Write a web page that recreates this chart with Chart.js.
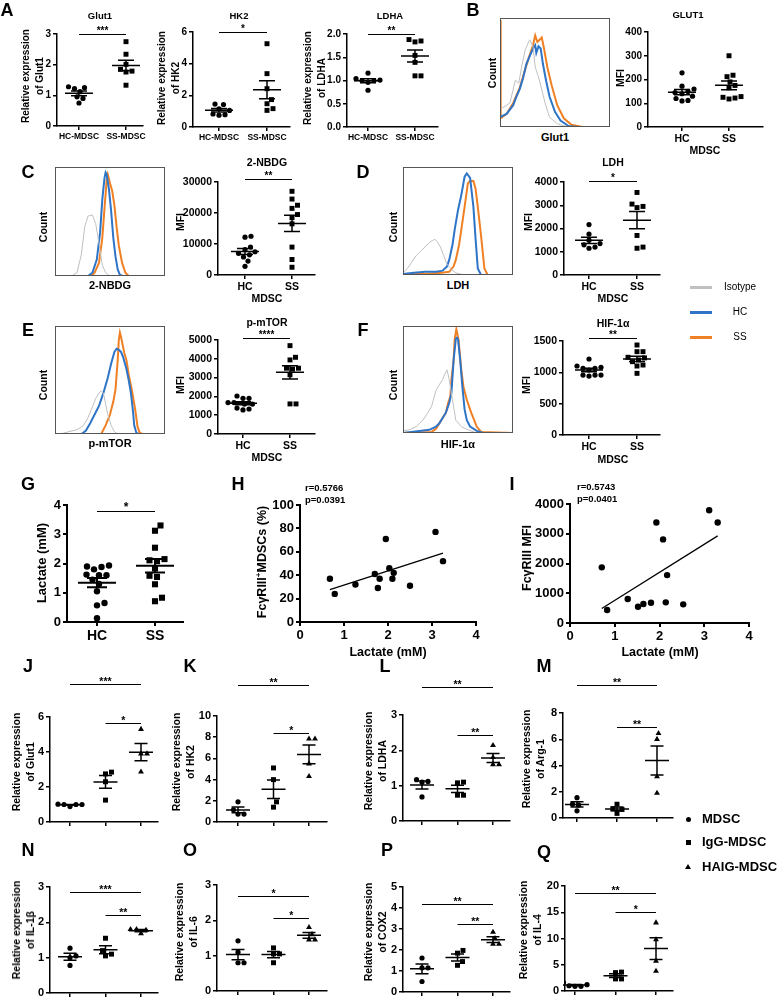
<!DOCTYPE html>
<html><head><meta charset="utf-8">
<script src="https://cdn.jsdelivr.net/npm/chart.js@4/dist/chart.umd.min.js"></script>
<style>
html,body{margin:0;padding:0;background:#fff;}
#root{position:relative;width:778px;height:997px;overflow:hidden;font-family:"Liberation Sans",Arial,sans-serif;font-weight:bold;color:#000;background:#fff;}
canvas{position:absolute;}
.t{position:absolute;white-space:nowrap;line-height:1.15;text-align:center;}
</style></head><body><div id="root"></div>
<script>
// ---------------- DATA ----------------
// Panel A: qPCR, HC-MDSC vs SS-MDSC
const A_labels = ['HC-MDSC','SS-MDSC'];
const A_glut1_HC = [1.28,1.22,1.25,1.12,0.95,0.90,0.75];
const A_glut1_SS = [2.75,2.34,2.01,1.85,1.79,1.76,1.33];
const A_hk2_HC = [1.45,1.42,1.15,1.05,0.82,0.78,0.75];
const A_hk2_SS = [5.26,3.37,2.42,1.73,1.47,1.16,1.05];
const A_ldha_HC = [1.16,1.04,1.01,1.00,1.00,0.96,0.79];
const A_ldha_SS = [1.88,1.85,1.83,1.54,1.39,1.10,1.10];
// MFI panels (HC vs SS)
const MFI_labels = ['HC','SS'];
const B_glut1_HC = [228,172,160,150,145,140,130,120,112,110];
const B_glut1_SS = [300,218,212,190,175,165,128,125,118,122];
const C_nbdg_HC = [12500,12200,9000,8200,7500,7000,6500,5800,4500,2800];
const C_nbdg_SS = [27000,24500,22500,21500,19500,18500,16500,9000,5000,2500];
const D_ldh_HC = [2170,1760,1500,1350,1300,1200,1150];
const D_ldh_SS = [3550,3050,2900,2950,1700,1150,1200];
const E_mtor_HC = [1900,2020,1900,1590,1670,1590,1670,1280,1330,1380];
const E_mtor_SS = [4700,4080,3940,3500,3500,3450,3150,1600,1600];
const F_hif_HC = [1213,1064,1080,1101,1064,1037,957,941,957,957];
const F_hif_SS = [1436,1330,1330,1240,1230,1197,1170,1117,1101,984];
// Flow histograms (fluorescence %, count %)
const B_iso_x = [0,1.5,9,14,17,20,23,26,27,30,32,35,38,41,45,52,58,65,100];
const B_iso_y = [15,17,22,43,40,57,71,78,80,74,55,46,34,22,9,3,1,0,0];
const B_hc_x = [0,6,12,15,18,21,24,27,30,32,33,35,37,39,42,45,50,55,62,70,100];
const B_hc_y = [9,12,20,28,35,45,58,65,72,75,68,74,72,58,42,28,14,6,1,0,0];
const B_ss_x = [0,0.6,6,12,18,22,26,30,32,34,36,38,40,43,47,52,58,65,75,100];
const B_ss_y = [98,8,12,22,36,50,63,75,84,78,80,82,72,55,38,20,8,2,0,0];
const C_iso_x = [0,15,20,24,27,30,34,37,40,43,46,50,100];
const C_iso_y = [0,0,3,20,45,55,56,48,30,10,3,0,0];
const C_hc_x = [0,30,34,38,41,43,45,46,47,49,51,53,55,57,59,62,100];
const C_hc_y = [0,0,3,15,40,70,90,95,93,80,60,35,18,6,1,0,0];
const C_ss_x = [0,33,36,40,43,45,47,48,50,52,54,56,58,61,64,67,100];
const C_ss_y = [0,0,3,12,35,62,88,93,85,78,65,45,28,12,3,0,0];
const D_iso_x = [0,4,8,12,16,20,24,27,29,31,34,37,40,44,48,55,100];
const D_iso_y = [2,6,12,18,22,26,30,32,33,31,26,18,10,5,2,0,0];
const D_hc_x = [0,10,20,30,36,40,42,45,47,50,53,56,58,61,64,66,68,71,100];
const D_hc_y = [1,2,3,3,4,8,14,28,42,60,74,91,94,90,63,33,6,0,0];
const D_ss_x = [0,20,35,42,46,48,51,53,56,59,61,64,66,68,71,74,77,100];
const D_ss_y = [1,1,2,3,8,14,28,42,63,85,87,87,80,63,36,6,0,0];
const E_iso_x = [0,5,12,20,26,30,34,37,40,42,44,46,48,51,54,57,100];
const E_iso_y = [0,0,2,4,8,15,25,33,38,40,38,28,18,8,2,0,0];
const E_hc_x = [0,24,28,32,36,40,44,48,51,54,56,58,60,62,65,67,69,71,72,74,76,100];
const E_hc_y = [0,0,3,10,18,26,38,52,65,76,79,78,76,71,60,50,38,20,8,1,0,0];
const E_ss_x = [0,42,46,50,53,55,56,57,58,59,60,62,63,65,67,69,70,73,75,77,80,100];
const E_ss_y = [0,0,8,18,30,41,55,68,87,94,90,80,75,68,55,45,40,22,7,1,0,0];
const F_iso_x = [0,6,12,18,22,26,30,33,36,38,40,42,45,48,53,59,67,100];
const F_iso_y = [2,3,6,12,18,25,40,45,50,55,59,50,31,12,6,3,0,0];
const F_hc_x = [0,24,30,33,36,39,42,44,46,48,49,50,52,54,56,58,61,67,73,100];
const F_hc_y = [0,3,6,9,14,19,28,37,68,88,89,88,68,43,22,12,6,2,0,0];
const F_ss_x = [0,26,30,33,36,39,41,43,44,46,47,48.5,50.5,52,53,55,58,62,67,71,100];
const F_ss_y = [0,1,4,9,14,19,28,34,50,68,88,97,87,70,59,43,31,19,6,1,0];
// Panel G: lactate
const G_labels = ['HC','SS'];
const G_lact_HC = [1.93,1.88,1.90,1.80,1.62,1.60,1.60,1.30,1.05,0.65,0.57,0.13,1.45];
const G_lact_SS = [3.30,3.12,2.54,2.15,2.11,2.08,1.83,1.58,1.54,1.29,0.83,0.71];
// Panels H, I: correlations
const H_lactate = [0.68,0.79,1.26,1.70,1.81,1.77,1.95,2.03,2.10,2.13,2.50,3.08,3.25];
const H_fcgr_pct = [37,24,32,41,37,29,71,46,37,42,31,77,52];
const I_lactate = [0.71,0.83,1.29,1.52,1.64,1.81,2.14,2.17,2.53,1.93,2.08,3.11,3.30];
const I_fcgr_mfi = [1870,436,805,547,638,681,694,1610,627,3380,2810,3790,3380];
// Panels J-Q: MDSC, IgG-MDSC, HAIG-MDSC
const JQ_groups = ['MDSC','IgG-MDSC','HAIG-MDSC'];
const J_MDSC = [1.02,0.88,1.00,1.00,1.00], J_IgG = [2.75,2.85,2.30,1.25], J_HAIG = [5.30,3.90,3.90,2.87];
const K_MDSC = [1.90,0.75,0.75,1.15], K_IgG = [5.10,4.00,1.90,1.40], K_HAIG = [7.85,7.85,5.50,4.30];
const L_MDSC = [1.12,1.17,1.10,0.68], L_IgG = [1.08,1.10,0.73,0.73], L_HAIG = [2.14,1.60,1.60,1.80];
const M_MDSC = [1.55,1.05,1.00,0.55], M_IgG = [1.05,0.70,0.65,0.35], M_HAIG = [6.45,6.00,3.15,1.90];
const N_MDSC = [1.27,1.00,1.05,0.78], N_IgG = [1.55,1.20,1.10,1.05], N_HAIG = [1.80,1.80,1.78,1.68];
const O_MDSC = [1.42,1.10,0.80,0.80], O_IgG = [1.22,1.05,1.05,0.80], O_HAIG = [1.80,1.60,1.45,1.45];
const P_MDSC = [1.62,1.15,1.15,0.50], P_IgG = [1.98,1.85,1.45,1.27], P_HAIG = [2.85,2.55,2.28,2.28];
const Q_MDSC = [1.60,0.90,1.20,1.00,0.90], Q_IgG = [3.50,3.60,2.30,2.30], Q_HAIG = [13.0,9.8,5.7,3.8];
// significance brackets: [group a, group b, y value, label]
const A1_sig=[[0,1,3.0,'***']], A2_sig=[[0,1,6.0,'*']], A3_sig=[[0,1,2.0,'**']];
const C_sig=[[0,1,31000,'**']], D_sig=[[0,1,4050,'*']], E_sig=[[0,1,5100,'****']], F_sig=[[0,1,1550,'**']];
const G_sig=[[0,1,3.8,'*']];
const J_sig=[[0,2,7.9,'***'],[1,2,5.65,'*']], K_sig=[[0,2,12.9,'**'],[1,2,8.4,'*']];
const L_sig=[[0,2,3.8,'**'],[1,2,2.42,'**']], M_sig=[[0,2,10.1,'**'],[1,2,6.9,'**']];
const N_sig=[[0,2,2.87,'***'],[1,2,2.22,'**']], O_sig=[[0,2,2.7,'*'],[1,2,2.06,'*']];
const P_sig=[[0,2,4.2,'**'],[1,2,3.25,'**']], Q_sig=[[0,2,18.6,'**'],[1,2,15,'*']];

// ---------------- DRAWING ----------------
const root = document.getElementById('root');
const FONT = '"Liberation Sans", Arial, sans-serif';
Chart.defaults.font.family = FONT;
Chart.defaults.font.weight = 'bold';
Chart.defaults.color = '#000';

function txt(s,x,y,o){ o=o||{}; const d=document.createElement('div'); d.className='t'; d.innerHTML=s;
  d.style.fontSize=(o.size||11)+'px'; if(o.lh) d.style.lineHeight=o.lh+'px'; if(o.w) d.style.fontWeight=o.w;
  d.style.left=x+'px'; d.style.top=y+'px';
  let tr=o.left?'translate(0,-50%)':'translate(-50%,-50%)'; if(o.rot) tr+=' rotate(-90deg)';
  d.style.transform=tr; root.appendChild(d); return d; }
function mkCanvas(x,y,w,h){ const c=document.createElement('canvas'); c.width=w; c.height=h;
  c.style.left=x+'px'; c.style.top=y+'px'; c.style.width=w+'px'; c.style.height=h+'px'; root.appendChild(c); return c; }

const swarmPlugin = { id:'swarm', afterDatasetsUpdate(chart){
  chart.data.datasets.forEach((ds,di)=>{
    if(ds.group===undefined) return;
    const meta=chart.getDatasetMeta(di); const d=ds.gap;
    const els=[...meta.data].sort((a,b)=>b.y-a.y);
    const placed=[];
    els.forEach(e=>{ const cx=e.x; let nx=cx;
      for(let k=0;k<400;k++){ const off=(k===0?0:(k%2?1:-1)*Math.ceil(k/2)*0.5); const tx=cx+off;
        if(placed.every(q=>(q.x-tx)*(q.x-tx)+(q.y-e.y)*(q.y-e.y)>=d*d)){ nx=tx; break; } }
      e.x=nx; placed.push({x:nx,y:e.y}); });
  });
}};
const meanSemPlugin = { id:'meanSem', afterDatasetsDraw(chart,args,o){
  if(!o||!o.mw) return; const ctx=chart.ctx, xs=chart.scales.x, ys=chart.scales.y;
  chart.data.datasets.forEach(ds=>{ if(ds.group===undefined) return;
    const v=ds.data.map(p=>p.y), n=v.length, m=v.reduce((a,b)=>a+b,0)/n;
    const sd=Math.sqrt(v.reduce((a,b)=>a+(b-m)*(b-m),0)/(n-1)), se=sd/Math.sqrt(n);
    const x=xs.getPixelForValue(ds.group), ym=ys.getPixelForValue(m), y1=ys.getPixelForValue(m+se), y2=ys.getPixelForValue(m-se);
    ctx.save(); ctx.strokeStyle='#000'; ctx.lineWidth=o.lw; ctx.beginPath();
    ctx.moveTo(x-o.mw,ym); ctx.lineTo(x+o.mw,ym); ctx.moveTo(x,y1); ctx.lineTo(x,y2);
    ctx.moveTo(x-o.cw,y1); ctx.lineTo(x+o.cw,y1); ctx.moveTo(x-o.cw,y2); ctx.lineTo(x+o.cw,y2);
    ctx.stroke(); ctx.restore(); });
}};
const sigPlugin = { id:'sig', afterDraw(chart,args,o){
  if(!o||!o.items) return; const ctx=chart.ctx, xs=chart.scales.x, ys=chart.scales.y;
  o.items.forEach(it=>{ const x1=xs.getPixelForValue(it[0]), x2=xs.getPixelForValue(it[1]), y=Math.round(ys.getPixelForValue(it[2]))+0.5;
    ctx.save(); ctx.strokeStyle='#000'; ctx.lineWidth=1; ctx.beginPath(); ctx.moveTo(x1,y); ctx.lineTo(x2,y); ctx.stroke(); ctx.restore(); });
}};
const framePlugin = { id:'frame', afterDraw(chart){ const a=chart.chartArea, ctx=chart.ctx;
  ctx.save(); ctx.strokeStyle='#555'; ctx.lineWidth=1; ctx.strokeRect(Math.round(a.left)+0.5,Math.round(a.top)+0.5,Math.round(a.right-a.left)-1,Math.round(a.bottom-a.top)-1); ctx.restore(); }};

function axisCommon(size, lw){ return {
  grid:{display:true,drawOnChartArea:false,drawTicks:true,tickLength:4,color:'#000',lineWidth:lw},
  border:{display:true,color:'#000',width:lw},
  ticks:{font:{size:size,weight:'bold'},color:'#000',padding:2,maxRotation:0,autoSkip:false}
};}

function dotChart(o){
  const [l,t,r,b]=o.plot, padL=52, padT=52, padR=14, padB=32;
  const cxp=l-padL, cyp=t-padT;
  const c=mkCanvas(cxp, cyp, r-l+padL+padR, b-t+padT+padB);
  const n=o.groups.length, sp=(o.cats[n-1]-o.cats[0])/(n-1);
  const xmin=-(o.cats[0]-l)/sp, xmax=(n-1)+(r-o.cats[n-1])/sp;
  const shapes=['circle','rect','triangle'];
  const rad=o.rad||[2.6,3.5,3.4];
  const datasets=o.groups.map((g,i)=>({group:i, gap:o.gap||6, data:g.map(v=>({x:i,y:v})), pointStyle:shapes[i],
    pointRadius:rad[i], backgroundColor:'#000', borderColor:'#000', borderWidth:0}));
  const yt=[]; for(let k=0;k*o.ystep<=o.ymax+1e-9;k++) yt.push(+(k*o.ystep).toFixed(6));
  const xa=axisCommon(o.xtick||10, o.lw||1.5), ya=axisCommon(o.tick||10, o.lw||1.5);
  xa.type='linear'; xa.min=xmin; xa.max=xmax;
  xa.afterBuildTicks=s=>{ s.ticks=o.groups.map((g,i)=>({value:i})); };
  xa.ticks.callback=v=>(o.labels?o.labels[v]:'');
  xa.afterFit=s=>{ s.height=padB; };
  ya.min=0; ya.max=o.ymax;
  ya.afterBuildTicks=s=>{ s.ticks=yt.map(v=>({value:v})); };
  ya.ticks.callback=v=>(o.fmt?o.fmt(v):String(v));
  ya.afterFit=s=>{ s.width=padL; };
  const ch=new Chart(c,{type:'scatter',data:{datasets},options:{responsive:false,animation:false,events:[],
    layout:{padding:{left:0,top:padT,right:padR,bottom:0}},
    plugins:{legend:{display:false},tooltip:{enabled:false},meanSem:{mw:o.mw,cw:o.cw,lw:o.lw||1.5},sig:{items:o.sig||[]}},
    scales:{x:xa,y:ya}},plugins:[swarmPlugin,meanSemPlugin,sigPlugin]});
  (o.sig||[]).forEach(it=>{ const x=(ch.scales.x.getPixelForValue(it[0])+ch.scales.x.getPixelForValue(it[1]))/2+cxp;
    const y=ch.scales.y.getPixelForValue(it[2])+cyp; txt(it[3], x, y-(o.starOff||3), {size:o.starSize||10}); });
  return ch;
}

function hist(box, iso, hc, ss){
  const [l,t,r,b]=box, p=2; const c=mkCanvas(l-p,t-p,r-l+2*p,b-t+2*p);
  const mk=(s,col,w)=>({data:s[0].map((x,i)=>({x:x,y:s[1][i]})),showLine:true,pointRadius:0,borderColor:col,borderWidth:w,tension:0,fill:false});
  new Chart(c,{type:'scatter',data:{datasets:[mk(iso,'rgb(192,192,192)',1),mk(hc,'rgb(46,117,200)',2),mk(ss,'rgb(240,128,36)',2)]},
    options:{responsive:false,animation:false,events:[],layout:{padding:p},plugins:{legend:{display:false},tooltip:{enabled:false}},
    scales:{x:{type:'linear',min:0,max:100,display:false},y:{min:0,max:100,display:false}}},plugins:[framePlugin]});
}

function corrChart(o){
  const [l,t,r,b]=o.plot, padL=52, padT=20, padR=14, padB=32;
  const c=mkCanvas(l-padL,t-padT,r-l+padL+padR,b-t+padT+padB);
  const n=o.x.length, mx=o.x.reduce((a,v)=>a+v,0)/n, my=o.y.reduce((a,v)=>a+v,0)/n;
  let sxy=0,sxx=0; for(let i=0;i<n;i++){ sxy+=(o.x[i]-mx)*(o.y[i]-my); sxx+=(o.x[i]-mx)*(o.x[i]-mx); }
  const sl=sxy/sxx, ic=my-sl*mx, x0=Math.min(...o.x), x1=Math.max(...o.x);
  const xa=axisCommon(13,2), ya=axisCommon(13,2);
  xa.type='linear'; xa.min=0; xa.max=4; xa.afterBuildTicks=s=>{ s.ticks=[0,1,2,3,4].map(v=>({value:v})); };
  xa.ticks.callback=v=>String(v);
  xa.afterFit=s=>{ s.height=padB; };
  const yt=[]; for(let k=0;k*o.ystep<=o.ymax;k++) yt.push(k*o.ystep);
  ya.min=0; ya.max=o.ymax; ya.afterBuildTicks=s=>{ s.ticks=yt.map(v=>({value:v})); }; ya.afterFit=s=>{ s.width=padL; };
  ya.ticks.callback=v=>String(v);
  new Chart(c,{type:'scatter',data:{datasets:[
    {data:o.x.map((x,i)=>({x:x,y:o.y[i]})),pointRadius:3.2,pointStyle:'circle',backgroundColor:'#000',borderWidth:0},
    {data:[{x:x0,y:ic+sl*x0},{x:x1,y:ic+sl*x1}],showLine:true,pointRadius:0,borderColor:'#000',borderWidth:1.3}]},
    options:{responsive:false,animation:false,events:[],layout:{padding:{left:0,top:padT,right:padR,bottom:0}},
    plugins:{legend:{display:false},tooltip:{enabled:false}},scales:{x:xa,y:ya}}});
}

// ---- Row A ----
const i0=v=>String(v), f1=v=>v.toFixed(1);
dotChart({plot:[57,34,143,126],cats:[79,126],groups:[A_glut1_HC,A_glut1_SS],labels:A_labels,ymax:3,ystep:1,fmt:i0,tick:10,xtick:8.5,mw:14,cw:8,sig:A1_sig,starSize:10});
dotChart({plot:[193,32,290,127],cats:[219,267],groups:[A_hk2_HC,A_hk2_SS],labels:A_labels,ymax:6,ystep:2,fmt:i0,tick:10,xtick:8.5,mw:14,cw:8,sig:A2_sig,starSize:10});
dotChart({plot:[347,34,438,127],cats:[368,415],groups:[A_ldha_HC,A_ldha_SS],labels:A_labels,ymax:2,ystep:0.5,fmt:f1,tick:10,xtick:8.5,mw:14,cw:8,sig:A3_sig,starSize:10});
txt('A',7,10,{size:18}); txt('Glut1',100,16,{size:9.5}); txt('HK2',239,16,{size:9.5}); txt('LDHA',390,16,{size:9.5});
txt('Relative expression<br>of Glut1',33,76,{size:10,rot:1,lh:14});
txt('Relative expression<br>of HK2',169,78,{size:10,rot:1,lh:14});
txt('Relative expression<br>of LDHA',315,78,{size:10,rot:1,lh:14});

// ---- B ----
txt('B',473,10,{size:18});
hist([500,18,610,127],[B_iso_x,B_iso_y],[B_hc_x,B_hc_y],[B_ss_x,B_ss_y]);
txt('Count',492,73,{size:10.5,rot:1}); txt('Glut1',555,137,{size:11});
dotChart({plot:[648,32,763,127],cats:[682,729],groups:[B_glut1_HC,B_glut1_SS],labels:MFI_labels,ymax:400,ystep:100,fmt:i0,tick:10,xtick:10.5,mw:14,cw:8});
txt('GLUT1',688,15,{size:9.5}); txt('MFI',620,78,{size:10.5,rot:1}); txt('MDSC',705,150,{size:10.5});

// ---- C ----
txt('C',28,172,{size:18});
hist([55,167,165,276],[C_iso_x,C_iso_y],[C_hc_x,C_hc_y],[C_ss_x,C_ss_y]);
txt('Count',43,227,{size:10.5,rot:1}); txt('2-NBDG',110,285,{size:11});
dotChart({plot:[218,182,315,275],cats:[245,292],groups:[C_nbdg_HC,C_nbdg_SS],labels:MFI_labels,ymax:30000,ystep:10000,fmt:i0,tick:10.5,xtick:10.5,mw:14,cw:8,sig:C_sig});
txt('2-NBDG',267,162,{size:10.5}); txt('MFI',180,222,{size:10.5,rot:1}); txt('MDSC',267,298,{size:10.5});

// ---- D ----
txt('D',363,172,{size:18});
hist([403,167,513,275],[D_iso_x,D_iso_y],[D_hc_x,D_hc_y],[D_ss_x,D_ss_y]);
txt('Count',393,227,{size:10.5,rot:1}); txt('LDH',458,285,{size:11});
dotChart({plot:[564,182,660,275],cats:[589,637],groups:[D_ldh_HC,D_ldh_SS],labels:MFI_labels,ymax:4000,ystep:1000,fmt:i0,tick:10.5,xtick:10.5,mw:14,cw:8,sig:D_sig});
txt('LDH',613,162,{size:10.5}); txt('MFI',528,222,{size:10.5,rot:1}); txt('MDSC',613,298,{size:10.5});

// legend Isotype / HC / SS
[['Isotype','rgb(192,192,192)',287],['HC','rgb(46,117,200)',312],['SS','rgb(240,128,36)',337]].forEach(a=>{
  const d=document.createElement('div'); d.style.cssText='position:absolute;left:690px;width:22px;height:3px;top:'+(a[2]-1.5)+'px;background:'+a[1];
  root.appendChild(d); txt(a[0],740,a[2],{size:10,w:'normal'}); });

// ---- E ----
txt('E',28,330,{size:18});
hist([55,326,165,434],[E_iso_x,E_iso_y],[E_hc_x,E_hc_y],[E_ss_x,E_ss_y]);
txt('Count',43,385,{size:10.5,rot:1}); txt('p-mTOR',110,443,{size:11});
dotChart({plot:[218,340,315,434],cats:[243,290],groups:[E_mtor_HC,E_mtor_SS],labels:MFI_labels,ymax:5000,ystep:1000,fmt:i0,tick:10.5,xtick:10.5,mw:14,cw:8,sig:E_sig});
txt('p-mTOR',267,322,{size:10.5}); txt('MFI',180,385,{size:10.5,rot:1}); txt('MDSC',267,457,{size:10.5});

// ---- F ----
txt('F',363,330,{size:18});
hist([403,326,513,433],[F_iso_x,F_iso_y],[F_hc_x,F_hc_y],[F_ss_x,F_ss_y]);
txt('Count',393,385,{size:10.5,rot:1}); txt('HIF-1α',458,444,{size:11});
dotChart({plot:[563,341,660,435],cats:[589,637],groups:[F_hif_HC,F_hif_SS],labels:MFI_labels,ymax:1500,ystep:500,fmt:i0,tick:10.5,xtick:10.5,mw:14,cw:8,sig:F_sig});
txt('HIF-1α',613,323,{size:10.5}); txt('MFI',526,385,{size:10.5,rot:1}); txt('MDSC',613,459,{size:10.5});

// ---- G ----
txt('G',28,484,{size:18});
dotChart({plot:[67,505,183,622],cats:[97,155],groups:[G_lact_HC,G_lact_SS],labels:G_labels,ymax:4,ystep:1,fmt:i0,tick:13,xtick:14,mw:19,cw:10,lw:2,rad:[3.2,4.3],gap:7.5,sig:G_sig,starSize:12});
txt('Lactate (mM)',42,563,{size:13,rot:1});

// ---- H ----
txt('H',238,484,{size:18});
corrChart({plot:[300,505,476,622],x:H_lactate,y:H_fcgr_pct,ymax:100,ystep:20});
txt('r=0.5766',305,488,{size:9.5,left:1}); txt('p=0.0391',305,500,{size:9.5,left:1});
txt('FcγRIII<sup style="font-size:8px">+</sup>MDSCs (%)',262,562,{size:12.5,rot:1}); txt('Lactate (mM)',388,652,{size:12.5});

// ---- I ----
txt('I',512,484,{size:18});
corrChart({plot:[570,504,749,623],x:I_lactate,y:I_fcgr_mfi,ymax:4000,ystep:1000});
txt('r=0.5743',577,487,{size:9.5,left:1}); txt('p=0.0401',577,499,{size:9.5,left:1});
txt('FcγRIII MFI',527,558,{size:12.5,rot:1}); txt('Lactate (mM)',660,652,{size:12.5});

// ---- J-Q ----
const jq={tick:11,mw:12,cw:6.5,starSize:10.5,rad:[2.6,3.5,3.4]};
function jqChart(plot,cats,groups,ymax,ystep,sig){ return dotChart(Object.assign({plot,cats,groups,ymax,ystep,sig,fmt:i0},jq)); }
jqChart([50,717,158,822],[70,105,141],[J_MDSC,J_IgG,J_HAIG],6,2,J_sig);
jqChart([217,716,327,822],[238,273,309],[K_MDSC,K_IgG,K_HAIG],10,2,K_sig);
jqChart([403,715,510,821],[422,458,493],[L_MDSC,L_IgG,L_HAIG],3,1,L_sig);
jqChart([563,713,673,818],[577,617,657],[M_MDSC,M_IgG,M_HAIG],8,2,M_sig);
jqChart([50,887,158,993],[70,105,141],[N_MDSC,N_IgG,N_HAIG],3,1,N_sig);
jqChart([217,885,327,991],[238,273,309],[O_MDSC,O_IgG,O_HAIG],3,1,O_sig);
jqChart([403,887,510,992],[422,458,493],[P_MDSC,P_IgG,P_HAIG],5,1,P_sig);
jqChart([565,886,673,991],[575,616,656],[Q_MDSC,Q_IgG,Q_HAIG],20,5,Q_sig);
txt('J',28,666,{size:18}); txt('K',190,666,{size:18}); txt('L',385,666,{size:18}); txt('M',544,666,{size:18});
txt('N',28,850,{size:18}); txt('O',190,850,{size:18}); txt('P',387,850,{size:18}); txt('Q',544,852,{size:18});
const yl=(s,x,y)=>txt('Relative expression<br>of '+s,x,y,{size:10.5,rot:1,lh:14});
yl('Glut1',23,762); yl('HK2',183,762); yl('LDHA',375,761); yl('Arg-1',533,759);
yl('IL-1β',23,930); yl('IL-6',186,932); yl('COX2',375,932); yl('IL-4',530,930);

// legend MDSC groups
function mark(shape,x,y){ const d=document.createElement('div'); d.style.position='absolute';
  if(shape==='circle'){ d.style.cssText+='left:'+(x-2.5)+'px;top:'+(y-2.5)+'px;width:5px;height:5px;border-radius:50%;background:#000;'; }
  else if(shape==='rect'){ d.style.cssText+='left:'+(x-2.5)+'px;top:'+(y-2.5)+'px;width:5px;height:5px;background:#000;'; }
  else { d.style.cssText+='left:'+(x-3)+'px;top:'+(y-3)+'px;width:0;height:0;border-left:3px solid transparent;border-right:3px solid transparent;border-bottom:5px solid #000;'; }
  root.appendChild(d); }
['circle','rect','triangle'].forEach((s,i)=>{ const y=[819,842,867][i]; mark(s,688,y); txt(JQ_groups[i],702,y,{size:13,left:1}); });
</script></body></html>
